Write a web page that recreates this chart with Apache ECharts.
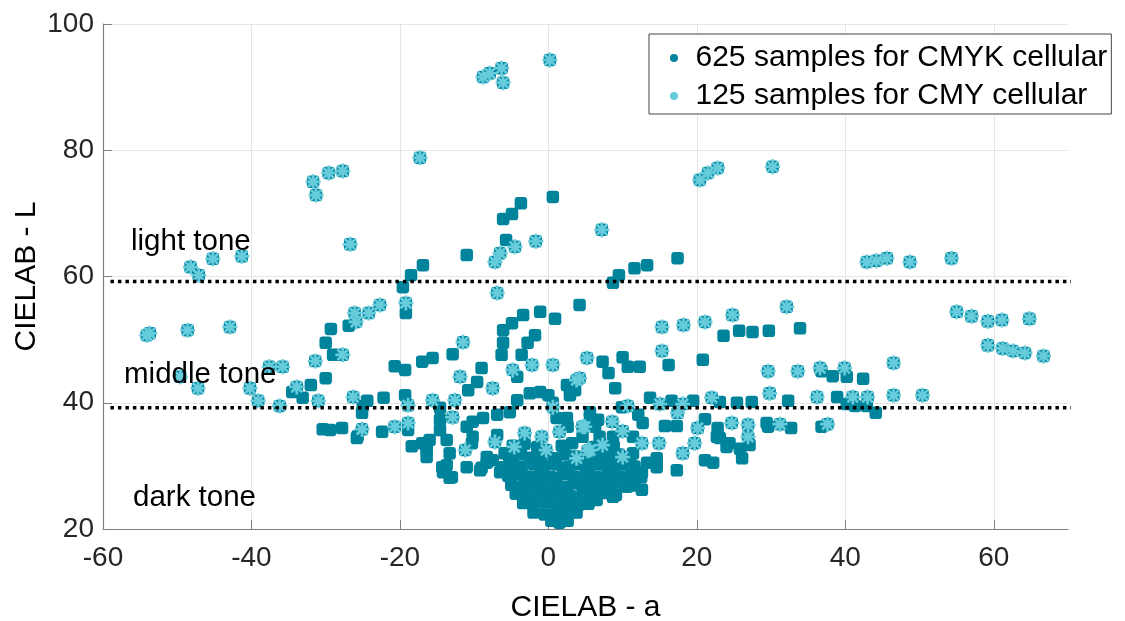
<!DOCTYPE html>
<html>
<head>
<meta charset="utf-8">
<script src="https://cdn.jsdelivr.net/npm/echarts@6/dist/echarts.min.js"></script>
<style>
html,body{margin:0;padding:0;background:#fff;}
#chart{width:1125px;height:621px;}
</style>
</head>
<body>
<div id="chart"></div>
<script>
// ---- data (CIELAB a, L) ----
var xTicks = [-60, -40, -20, 0, 20, 40, 60];
var yTicks = [20, 40, 60, 80, 100];
var toneBounds = [39.2, 59.2];
var toneLineExtent = [-59, 78];
var toneLabels = ['light tone', 'middle tone', 'dark tone'];
var seriesNames = ['625 samples for CMYK cellular', '125 samples for CMY cellular'];

// samples only in the CMYK set (the CMY samples are part of it too)
var cmykOnly = [
  [-11.0,63.4],[-16.9,61.8],[-18.5,60.2],[-19.6,58.3],[-5.7,65.8],[-6.1,69.1],[-4.9,69.9],[-3.7,71.6],[0.6,72.6],
  [8.7,59.0],[9.5,60.2],[11.6,61.3],[13.3,61.8],[17.4,62.9],
  [4.2,55.5],[-1.1,54.4],[0.9,53.3],[-3.4,53.9],[-4.9,52.6],[-6.1,51.5],[-1.8,50.7],[-2.8,49.5],[-6.1,49.5],
  [-6.3,47.6],[-3.6,47.6],[-12.9,47.7],[-15.6,47.1],[-17.0,46.5],[-9.0,45.5],[-4.2,44.1],[-9.6,43.3],[-10.8,42.0],
  [2.5,42.8],[3.6,42.0],[2.9,41.2],
  [-4.2,40.4],[-2.5,41.5],[-1.1,41.7],[0.0,41.2],[0.6,40.0],[1.1,37.6],
  [-5.2,38.5],[-6.9,38.1],[-8.8,37.6],[-10.2,37.0],[-11.0,36.2],[-10.2,34.6],[-10.3,33.6],
  [-14.6,39.2],[-14.6,37.3],[-14.6,35.7],[-16.0,34.1],[-16.4,33.0],[-16.4,31.4],[-13.7,34.1],[-13.3,32.0],
  [-13.7,30.1],[-14.2,29.0],[-13.0,28.2],[-11.0,29.8],[-9.0,29.7],[-8.3,31.4],[-6.9,34.9],[-7.5,30.9],
  [-6.1,29.8],[-5.9,32.0],[-4.8,31.2],
  [-19.2,54.2],[-29.3,51.7],[-26.9,52.2],[-30.0,49.5],[-29.0,47.6],[-30.0,43.9],[-32.0,42.8],[-34.5,41.7],
  [-33.1,40.8],[-20.7,45.8],[-19.3,45.2],[-22.2,40.8],[-24.4,40.3],[-19.3,41.2],[-25.1,38.4],[-30.4,35.8],
  [-29.4,35.7],[-27.8,36.0],[-25.7,34.7],[-22.4,35.4],[-18.9,35.7],[-18.4,33.1],[-17.0,33.6],[-16.4,32.5],
  [-25.0,39.5],[-25.8,34.4],[-14.3,29.8],[-13.3,28.1],[-9.2,29.3],[-6.5,29.0],[-8.3,30.5],
  [7.3,46.5],[8.1,44.7],[10.0,47.2],[10.7,45.7],[12.3,45.7],[16.2,46.0],[20.8,46.8],[23.6,50.6],[25.7,51.4],
  [27.5,51.2],[29.7,51.4],[33.9,51.8],[9.0,42.3],[13.7,40.8],[16.6,40.3],[19.5,40.3],[23.1,40.1],[25.4,40.0],
  [27.4,40.1],[32.3,40.3],[9.9,39.3],[12.1,38.1],[12.7,36.8],[15.7,36.3],[17.3,36.3],[21.1,37.4],[22.8,36.0],
  [23.1,34.4],[24.0,33.0],[25.8,32.7],[26.1,31.2],[27.1,33.3],[21.1,30.9],[22.2,30.5],[17.3,29.3],[14.6,31.2],
  [14.6,29.8],[13.3,30.5],[12.6,28.9],[12.6,26.2],[10.6,26.7],[8.7,25.1],[6.5,24.6],
  [36.8,45.0],[38.3,44.2],[40.2,44.1],[42.4,43.8],[38.9,40.9],[40.2,39.8],[41.3,39.5],[42.9,39.5],[44.1,38.4],
  [29.4,36.8],[29.6,36.2],[32.7,36.0],[36.8,36.2],
  [5.6,37.7],[6.7,37.3],[6.3,36.2],[2.6,36.2],[6.9,34.6],[22.7,34.6],[24.4,33.6],
  [8.7,34.6],[11.4,34.6],[11.4,32.0],[9.4,30.6],[2.5,37.6],[5.6,38.5],[4.6,34.6],
  [-4.8,33.2],[-3.2,33.5],[-1.5,33.0],[1.8,33.2],[3.2,33.6],[6.2,33.0],[8.8,33.1],
  [-5.3,31.6],[-3.7,31.8],[-2.4,31.3],[-1.0,31.6],[0.7,31.2],[2.2,31.8],[3.6,31.5],[5.1,31.0],[6.6,31.7],[8.0,31.4],[9.5,31.8],[11.0,31.3],
  [-5.0,30.1],[-3.6,29.8],[-2.0,30.3],[-0.6,29.9],[1.0,30.2],[2.6,29.8],[4.0,30.3],[5.5,29.9],[7.0,30.2],[8.5,29.7],[10.0,30.2],[11.6,29.9],
  [-5.4,28.4],[-4.0,28.7],[-2.6,28.3],[-1.1,28.6],[0.4,28.2],[2.0,28.7],[3.4,28.3],[5.0,28.6],[6.5,28.2],[8.0,28.6],[9.5,28.3],[11.1,28.6],[12.5,28.2],
  [-5.0,27.0],[-3.4,26.8],[-2.0,27.2],[-0.5,26.9],[1.1,27.1],[2.5,26.7],[4.0,27.2],[5.6,26.8],[7.0,27.1],[8.5,26.9],[10.1,27.2],[11.6,26.9],
  [-4.4,25.6],[-3.0,25.3],[-1.5,25.7],[0.0,25.4],[1.6,25.6],[3.0,25.2],[4.6,25.6],[6.0,25.3],[7.5,25.7],[9.1,25.4],
  [-3.4,24.1],[-2.0,23.8],[-0.5,24.2],[1.0,23.9],[2.4,24.2],[4.0,23.8],[5.4,24.0],
  [-2.0,22.6],[-0.5,22.3],[1.0,22.7],[2.5,22.4],[3.8,22.6],
  [0.4,21.3],[1.5,21.0],[2.6,21.3]
];

var cmy = [
  [-8.8,91.6],[-7.9,92.2],[-6.3,93.0],[-6.1,90.7],[0.2,94.3],
  [-31.7,75.0],[-31.3,72.9],[-29.6,76.4],[-27.7,76.7],[-26.7,65.1],
  [-48.2,61.5],[-47.1,60.2],[-45.2,62.8],[-41.3,63.2],
  [-17.3,78.8],[7.2,67.4],[20.4,75.3],[21.5,76.4],[22.8,77.2],[30.2,77.4],
  [-7.2,62.3],[-6.5,63.7],[-4.5,64.7],[-1.7,65.6],[-6.9,57.4],
  [42.9,62.3],[44.2,62.5],[45.6,62.9],[48.7,62.3],[54.3,62.9],
  [55.0,54.4],[57.0,53.7],[59.2,52.9],[61.1,53.1],[64.8,53.3],
  [59.2,49.1],[61.2,48.6],[62.6,48.2],[64.2,47.9],[66.7,47.4],
  [32.1,55.2],[29.6,45.0],[33.6,45.0],[36.6,45.5],[39.9,45.5],[46.5,46.3],
  [29.8,41.5],[36.2,40.9],[41.0,40.9],[43.0,40.9],[46.5,41.2],[50.4,41.2],
  [26.9,36.5],[26.9,34.6],[31.2,36.6],[37.6,36.6],
  [15.3,52.0],[18.2,52.3],[21.1,52.8],[24.8,53.9],[15.3,48.2],[5.2,47.1],[4.2,43.9],[22.0,40.8],
  [15.0,39.8],[18.1,39.8],[10.7,39.5],[17.4,38.4],[24.7,36.8],[20.1,36.0],[4.9,36.2],[8.6,37.0],
  [10.0,35.5],[7.3,33.3],[5.6,32.5],[12.6,33.6],[14.9,33.6],[19.7,33.6],[18.1,32.0],[10.0,31.4],
  [-11.5,49.6],[-11.9,44.1],[-7.5,42.3],[-4.8,45.2],[-2.2,46.0],[0.6,46.0],[3.8,43.6],[-15.6,40.4],
  [-12.6,40.4],[-12.9,37.7],[0.6,39.3],[-3.2,35.2],[-7.2,33.8],[-4.6,33.0],[-0.9,34.6],[-0.3,32.5],
  [1.5,35.4],[4.6,36.2],[5.3,32.4],[3.8,31.2],[-11.2,32.5],
  [-42.9,52.0],[-40.2,42.3],[-39.1,40.3],[-37.6,45.7],[-35.8,45.7],[-36.2,39.5],[-33.9,42.5],[-31.4,46.6],
  [-31.0,40.3],[-27.7,47.6],[-26.3,40.9],[-26.1,54.2],[-25.9,52.8],[-24.2,54.2],[-22.7,55.5],[-19.2,55.8],
  [-25.1,35.8],[-20.7,36.2],[-18.9,36.8],[-18.9,39.6],
  [-54.1,50.7],[-53.7,51.0],[-48.6,51.5],[-49.6,44.1],[-47.2,42.3]
];

// ---- styling ----
var DARK = '#00849b';
var LIGHT = '#66cbdb';
var FONT = 'Liberation Sans, Arial, sans-serif';
var ASTERISK = 'path://M20,11.8L20,8.2L0,8.2L0,11.8Z' +
  'M15.8,18.34L18.34,15.8L4.2,1.66L1.66,4.2Z' +
  'M8.2,20L11.8,20L11.8,0L8.2,0Z' +
  'M1.66,15.8L4.2,18.34L18.34,4.2L15.8,1.66Z';

var cmykAll = cmykOnly.concat(cmy);

var lineSeries = toneBounds.map(function (L) {
  return {
    type: 'line',
    data: [[toneLineExtent[0], L], [toneLineExtent[1], L]],
    symbol: 'none',
    clip: false,
    silent: true,
    z: 5,
    lineStyle: { color: '#000', width: 3.5, type: [3.5, 4], cap: 'butt' }
  };
});

var chart = echarts.init(document.getElementById('chart'), null, { renderer: 'canvas' });
chart.setOption({
  animation: false,
  backgroundColor: '#fff',
  textStyle: { fontFamily: FONT },
  grid: { left: 103, right: 57, top: 24, bottom: 92, containLabel: false, outerBoundsMode: 'none' },
  xAxis: {
    type: 'value', min: xTicks[0], max: 70, interval: 20,
    name: 'CIELAB - a', nameLocation: 'middle', nameGap: 64, nameMoveOverlap: false,
    nameTextStyle: { fontSize: 30, color: '#000', fontFamily: FONT },
    axisLine: { show: true, onZero: false, lineStyle: { color: '#808080', width: 1.2 } },
    axisTick: { show: true, inside: true, length: 9, lineStyle: { color: '#808080' } },
    axisLabel: { fontSize: 28, color: '#262626', margin: 15, showMaxLabel: false, fontFamily: FONT },
    splitLine: { show: true, showMaxLine: false, lineStyle: { color: '#e6e6e6', width: 1 } }
  },
  yAxis: {
    type: 'value', min: yTicks[0], max: yTicks[yTicks.length - 1], interval: 20,
    name: 'CIELAB - L', nameLocation: 'middle', nameGap: 61, nameRotate: 90, nameMoveOverlap: false,
    nameTextStyle: { fontSize: 30, color: '#000', fontFamily: FONT },
    axisLine: { show: true, onZero: false, lineStyle: { color: '#808080', width: 1.2 } },
    axisTick: { show: true, inside: true, length: 9, lineStyle: { color: '#808080' } },
    axisLabel: { fontSize: 28, color: '#262626', margin: 9, fontFamily: FONT },
    splitLine: { show: true, lineStyle: { color: '#e6e6e6', width: 1 } }
  },
  legend: {
    orient: 'vertical', left: 649, top: 34,
    padding: [9, 4, 3, 21], itemGap: 8,
    itemWidth: 33, itemHeight: 8,
    backgroundColor: '#fff', borderColor: '#444', borderWidth: 1, borderRadius: 0,
    textStyle: { fontSize: 30, color: '#000', lineHeight: 30, fontFamily: FONT },
    data: [
      { name: seriesNames[0], icon: 'circle', itemStyle: { color: DARK } },
      { name: seriesNames[1], icon: 'circle', itemStyle: { color: LIGHT } }
    ]
  },
  graphic: [
    { type: 'text', left: 131, top: 244 - 17, z: 10, style: { text: toneLabels[0], fontSize: 29.5, fill: '#000', fontFamily: FONT } },
    { type: 'text', left: 124, top: 377 - 17, z: 10, style: { text: toneLabels[1], fontSize: 29.5, fill: '#000', fontFamily: FONT } },
    { type: 'text', left: 133, top: 500 - 17, z: 10, style: { text: toneLabels[2], fontSize: 29.5, fill: '#000', fontFamily: FONT } }
  ],
  series: [
    {
      name: seriesNames[0], type: 'scatter', data: cmykAll,
      symbol: 'roundRect', symbolSize: 12.5, z: 2,
      itemStyle: { color: DARK, opacity: 1 }
    },
    {
      name: seriesNames[1], type: 'scatter', data: cmy,
      symbol: ASTERISK, symbolSize: 15, z: 3,
      itemStyle: { color: LIGHT, opacity: 1 }
    }
  ].concat(lineSeries)
});
</script>
</body>
</html>
